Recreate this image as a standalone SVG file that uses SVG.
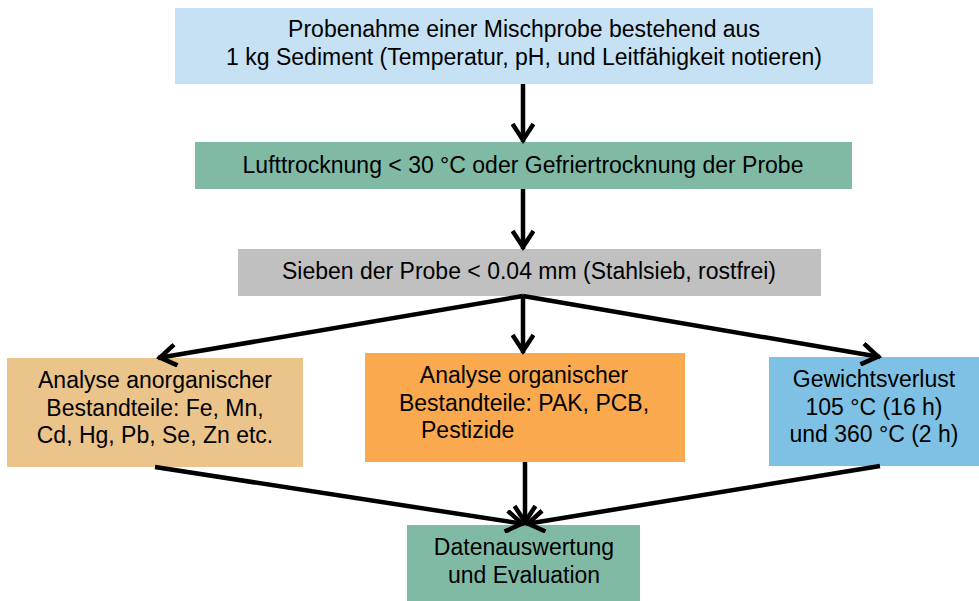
<svg xmlns="http://www.w3.org/2000/svg" width="979" height="601" viewBox="0 0 979 601">
<style>
text{font-family:"Liberation Sans",Arial,sans-serif;font-size:23px;fill:#000;text-anchor:middle}
.c line{stroke:#000;stroke-width:4.5;marker-end:url(#ah)}
</style>
<defs>
<marker id="ah" viewBox="0 0 24 24" markerWidth="24" markerHeight="24" refX="21" refY="12" orient="auto" markerUnits="userSpaceOnUse">
<path d="M3,1.5 L19,12 L3,22.5" fill="none" stroke="#000" stroke-width="4.5"/>
</marker>
</defs>
<rect width="979" height="601" fill="#fff"/>
<g id="n1"><rect x="175" y="8" width="698" height="76" fill="#C5E1F3"/><text x="524" y="37">Probenahme einer Mischprobe bestehend aus</text><text x="524" y="65">1 kg Sediment (Temperatur, pH, und Leitfähigkeit notieren)</text></g>
<g id="n2"><rect x="195" y="142" width="657" height="47" fill="#80BAA5"/><text x="523" y="173">Lufttrocknung &lt; 30 °C oder Gefriertrocknung der Probe</text></g>
<g id="n3"><rect x="238" y="249" width="583" height="47" fill="#C0C0C0"/><text x="529" y="279">Sieben der Probe &lt; 0.04 mm (Stahlsieb, rostfrei)</text></g>
<g id="n4"><rect x="7" y="358" width="296" height="109" fill="#EBC48B"/><text x="155" y="388">Analyse anorganischer</text><text x="155" y="416">Bestandteile: Fe, Mn,</text><text x="155" y="443">Cd, Hg, Pb, Se, Zn etc.</text></g>
<g id="n5"><rect x="365" y="353" width="320" height="109" fill="#FBA94E"/><text x="524" y="383">Analyse organischer</text><text x="524" y="411">Bestandteile: PAK, PCB,</text><text x="421" y="438" style="text-anchor:start">Pestizide</text></g>
<g id="n6"><rect x="769" y="357" width="210" height="109" fill="#7EC1E4"/><text x="874" y="387">Gewichtsverlust</text><text x="874" y="415">105 °C (16 h)</text><text x="874" y="442">und 360 °C (2 h)</text></g>
<g id="n7"><rect x="407" y="525" width="233" height="76" fill="#80BAA5"/><text x="524" y="555">Datenauswertung</text><text x="524" y="583">und Evaluation</text></g>
<g class="c" id="connectors">
<line x1="523" y1="84" x2="523" y2="142"/>
<line x1="523" y1="189" x2="523" y2="249"/>
<line x1="523" y1="296" x2="523" y2="353"/>
<line x1="523" y1="296" x2="158" y2="358"/>
<line x1="523" y1="296" x2="880" y2="357"/>
<line x1="155" y1="467" x2="524" y2="524"/>
<line x1="525" y1="462" x2="525" y2="524"/>
<line x1="880" y1="466" x2="526" y2="524"/>
</g>
</svg>
